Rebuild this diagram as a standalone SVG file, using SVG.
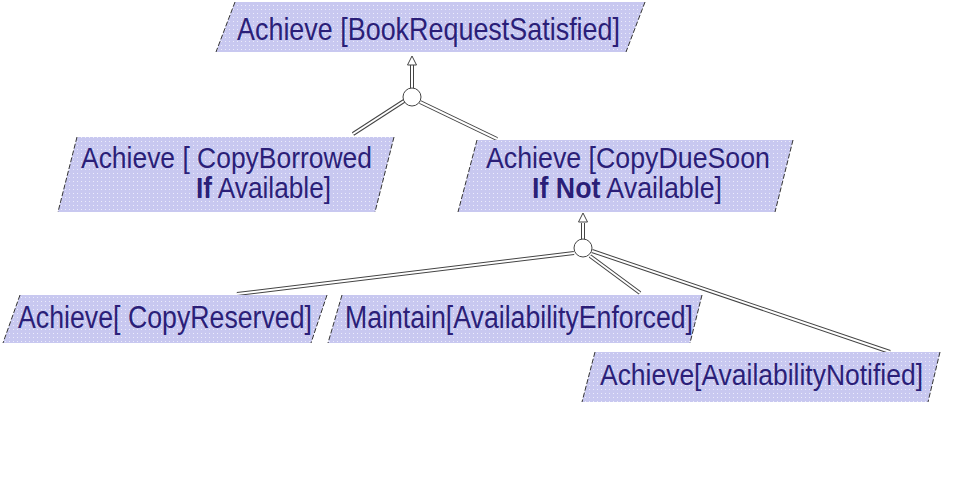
<svg xmlns="http://www.w3.org/2000/svg" width="960" height="481" viewBox="0 0 960 481">
<defs>
<pattern id="dots" width="4" height="4" patternUnits="userSpaceOnUse">
<rect width="4" height="4" fill="#c8c8f0"/>
<rect x="1" y="1" width="1" height="1" fill="#ececfb"/>
</pattern>
</defs>
<style>
.box{fill:url(#dots);stroke:none}
.edge{stroke:#333;stroke-width:1;stroke-dasharray:5 2;fill:none}
.t{font-family:"Liberation Sans",Arial,sans-serif;fill:#2b1f78}
.b{font-weight:bold}
.outer{stroke:#444;stroke-width:4;fill:none}
.inner{stroke:#fff;stroke-width:2;fill:none}
.circ{fill:#fff;stroke:#444;stroke-width:1}
.head{fill:#fff;stroke:#444;stroke-width:1}
</style>
<rect width="960" height="481" fill="#fff"/>

<g id="connectors">
  <g class="outer">
    <line x1="404" y1="101" x2="353" y2="134"/>
    <line x1="420" y1="102" x2="497" y2="139"/>
    <line x1="412" y1="88" x2="412" y2="65"/>
    <line x1="574" y1="253" x2="237" y2="294"/>
    <line x1="590" y1="256" x2="640" y2="293"/>
    <line x1="592" y1="251" x2="890" y2="352"/>
    <line x1="583" y1="239" x2="583" y2="223"/>
  </g>
  <g class="inner">
    <line x1="404" y1="101" x2="353" y2="134"/>
    <line x1="420" y1="102" x2="497" y2="139"/>
    <line x1="412" y1="88" x2="412" y2="64"/>
    <line x1="574" y1="253" x2="237" y2="294"/>
    <line x1="590" y1="256" x2="640" y2="293"/>
    <line x1="592" y1="251" x2="890" y2="352"/>
    <line x1="583" y1="239" x2="583" y2="222"/>
  </g>
  <circle class="circ" cx="412" cy="97" r="9"/>
  <polygon class="head" points="412,56 416.5,65 407.5,65"/>
  <circle class="circ" cx="583" cy="248" r="9"/>
  <polygon class="head" points="583,213 587.5,222 578.5,222"/>
</g>

<g id="n-book">
  <polygon class="box" points="235,2 645,2 626,52 216,52"/>
  <line class="edge" x1="235" y1="2" x2="216" y2="52"/>
  <line class="edge" x1="645" y1="2" x2="626" y2="52"/>
  <text class="t" x="237" y="40" font-size="32" textLength="383" lengthAdjust="spacingAndGlyphs">Achieve [BookRequestSatisfied]</text>
</g>

<g id="n-borrowed">
  <polygon class="box" points="77,137 394,137 375,212 58,212"/>
  <line class="edge" x1="77" y1="137" x2="58" y2="212"/>
  <line class="edge" x1="394" y1="137" x2="375" y2="212"/>
  <text class="t" x="81" y="168" font-size="29" textLength="291" lengthAdjust="spacingAndGlyphs">Achieve [ CopyBorrowed</text>
  <text class="t" x="196" y="198" font-size="29" textLength="135" lengthAdjust="spacingAndGlyphs"><tspan class="b">If</tspan> Available]</text>
</g>

<g id="n-duesoon">
  <polygon class="box" points="477,140 793,140 775,212 458,212"/>
  <line class="edge" x1="477" y1="140" x2="458" y2="212"/>
  <line class="edge" x1="793" y1="140" x2="775" y2="212"/>
  <text class="t" x="486" y="168" font-size="29" textLength="284" lengthAdjust="spacingAndGlyphs">Achieve [CopyDueSoon</text>
  <text class="t" x="532" y="198" font-size="29" textLength="190" lengthAdjust="spacingAndGlyphs"><tspan class="b">If Not</tspan> Available]</text>
</g>

<g id="n-reserved">
  <polygon class="box" points="20,295 327,295 311,343 3,343"/>
  <line class="edge" x1="20" y1="295" x2="3" y2="343"/>
  <line class="edge" x1="327" y1="295" x2="311" y2="343"/>
  <text class="t" x="18" y="328" font-size="31" textLength="294" lengthAdjust="spacingAndGlyphs">Achieve[ CopyReserved]</text>
</g>

<g id="n-enforced">
  <polygon class="box" points="342,295 702,295 690,343 328,343"/>
  <line class="edge" x1="342" y1="295" x2="328" y2="343"/>
  <line class="edge" x1="702" y1="295" x2="690" y2="343"/>
  <text class="t" x="345" y="328" font-size="31" textLength="348" lengthAdjust="spacingAndGlyphs">Maintain[AvailabilityEnforced]</text>
</g>

<g id="n-notified">
  <polygon class="box" points="595,352 940,352 928,402 582,402"/>
  <line class="edge" x1="595" y1="352" x2="582" y2="402"/>
  <line class="edge" x1="940" y1="352" x2="928" y2="402"/>
  <text class="t" x="600" y="385" font-size="30" textLength="323" lengthAdjust="spacingAndGlyphs">Achieve[AvailabilityNotified]</text>
</g>
</svg>
